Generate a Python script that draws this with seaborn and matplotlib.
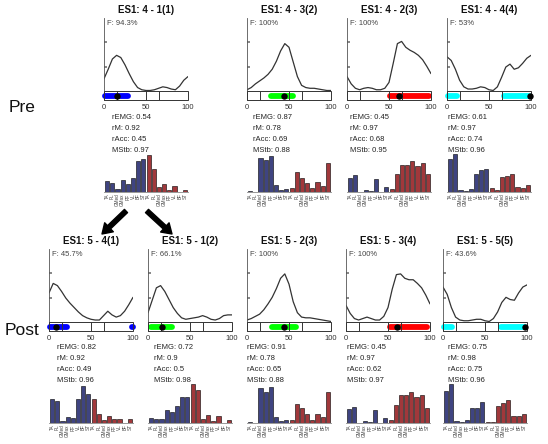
import numpy as np
import pandas as pd
import matplotlib
matplotlib.use('Agg')
import matplotlib.pyplot as plt
from matplotlib.patches import Rectangle
import seaborn as sns

sns.set_theme(style='white')
plt.rcParams['font.family'] = ['Liberation Sans', 'DejaVu Sans']

W, H = 548, 444

# gait cycle (%) sampling of the activation curves
phase = np.arange(0, 101, 5)

titles = ['ES1: 4 - 1(1)', 'ES1: 4 - 3(2)', 'ES1: 4 - 2(3)', 'ES1: 4 - 4(4)',
          'ES1: 5 - 4(1)', 'ES1: 5 - 1(2)', 'ES1: 5 - 2(3)', 'ES1: 5 - 3(4)', 'ES1: 5 - 5(5)']
f_labels = ['94.3%', '100%', '100%', '53%', '45.7%', '66.1%', '100%', '100%', '43.6%']
r_emg = [0.54, 0.87, 0.45, 0.61, 0.82, 0.72, 0.91, 0.45, 0.75]
r_m = [0.92, 0.78, 0.97, 0.97, 0.92, 0.9, 0.78, 0.97, 0.98]
r_acc = [0.45, 0.69, 0.68, 0.74, 0.49, 0.5, 0.65, 0.62, 0.75]
m_stb = [0.97, 0.88, 0.95, 0.96, 0.96, 0.98, 0.88, 0.97, 0.96]

curves = [
    [0.17, 0.30, 0.44, 0.49, 0.46, 0.36, 0.24, 0.13, 0.05, 0.02, 0.01, 0.01, 0.02, 0.04, 0.06, 0.05, 0.03, 0.02, 0.07, 0.15, 0.20],
    [0.02, 0.05, 0.10, 0.14, 0.18, 0.23, 0.30, 0.41, 0.55, 0.65, 0.60, 0.40, 0.20, 0.08, 0.05, 0.04, 0.04, 0.03, 0.02, 0.01, 0.01],
    [0.20, 0.10, 0.04, 0.02, 0.04, 0.05, 0.04, 0.02, 0.02, 0.04, 0.12, 0.38, 0.65, 0.68, 0.60, 0.56, 0.53, 0.49, 0.43, 0.34, 0.24],
    [0.47, 0.42, 0.30, 0.15, 0.06, 0.03, 0.03, 0.04, 0.06, 0.05, 0.02, 0.01, 0.06, 0.19, 0.33, 0.37, 0.30, 0.32, 0.38, 0.45, 0.49],
    [0.40, 0.53, 0.50, 0.42, 0.33, 0.26, 0.20, 0.14, 0.09, 0.06, 0.04, 0.03, 0.03, 0.09, 0.15, 0.10, 0.07, 0.09, 0.15, 0.24, 0.34],
    [0.13, 0.30, 0.47, 0.50, 0.42, 0.31, 0.20, 0.12, 0.06, 0.04, 0.05, 0.06, 0.07, 0.09, 0.07, 0.04, 0.03, 0.05, 0.09, 0.10, 0.10],
    [0.03, 0.05, 0.08, 0.11, 0.17, 0.25, 0.34, 0.46, 0.60, 0.66, 0.52, 0.28, 0.13, 0.07, 0.06, 0.06, 0.05, 0.04, 0.03, 0.02, 0.01],
    [0.23, 0.12, 0.05, 0.03, 0.05, 0.07, 0.05, 0.03, 0.03, 0.08, 0.20, 0.45, 0.65, 0.66, 0.60, 0.58, 0.58, 0.53, 0.47, 0.37, 0.25],
    [0.48, 0.38, 0.20, 0.07, 0.03, 0.02, 0.02, 0.03, 0.04, 0.04, 0.02, 0.01, 0.05, 0.14, 0.27, 0.34, 0.31, 0.30, 0.40, 0.48, 0.51],
]

# active range of each synergy on the gait cycle and its centre
band_colors = ['#0000ff', '#00ff00', '#ff0000', '#00ffff',
               '#0000ff', '#00ff00', '#00ff00', '#ff0000', '#00ffff']
band_spans = [[(1, 28)], [(28, 55)], [(51, 98)], [(1, 12), (68, 98)],
              [(1, 21), (98.5, 99.5)], [(4, 29)], [(30, 58)], [(52, 97)], [(1, 11), (69, 98)]]
band_centres = [15, 44, 62, 99, 8, 17, 44, 61, 98]
phase_marks = [15, 50, 65]

muscles = ['TA', 'PL', 'GMed', 'GMax', 'RF', 'VL', 'BF', 'ST']
side = ['L'] * 8 + ['R'] * 8
weights = [
    [33, 28, 10, 37, 25, 42, 93, 100, 111, 68, 15, 24, 7, 18, 1, 7],
    [3, 1, 103, 95, 107, 20, 5, 10, 12, 60, 42, 28, 12, 30, 18, 88],
    [42, 50, 1, 5, 3, 38, 1, 14, 8, 55, 80, 80, 92, 78, 87, 53],
    [98, 113, 7, 4, 10, 55, 65, 70, 12, 6, 45, 48, 55, 15, 11, 22],
    [73, 67, 6, 18, 15, 72, 110, 88, 71, 28, 10, 22, 11, 11, 0, 12],
    [16, 11, 11, 38, 33, 51, 78, 78, 118, 98, 13, 23, 5, 20, 1, 10],
    [2, 1, 105, 92, 107, 18, 6, 8, 10, 56, 46, 26, 10, 28, 18, 92],
    [41, 48, 1, 5, 3, 38, 1, 15, 10, 55, 83, 83, 92, 78, 85, 46],
    [95, 116, 6, 4, 8, 45, 45, 64, 2, 2, 51, 60, 70, 22, 20, 28],
]

# layout in pixels
col_x = [104, 247, 347, 447, 49, 148, 247, 346, 443]
stats_dx = [8, 6, 3, 1, 8, 6, 0, 1, 5]
rows = [dict(title=10, top=18, bot=100, stats=117, btop=152, bbot=192),
        dict(title=241, top=249, bot=331, stats=347, btop=383, bbot=423)]
PW = 84
BAND = 0.12

fig = plt.figure(figsize=(W / 100, H / 100), dpi=100)
canvas = fig.add_axes([0, 0, 1, 1])
canvas.set_xlim(0, W)
canvas.set_ylim(H, 0)
canvas.axis('off')
canvas.patch.set_alpha(0)


def px_axes(x, y, w, h):
    return fig.add_axes([x / W, 1 - (y + h) / H, w / W, h / H])


for i in range(9):
    row = rows[0 if i < 4 else 1]
    x0 = col_x[i]

    canvas.text(x0 + PW / 2, row['title'], titles[i], ha='center', va='center',
                fontsize=7, fontweight='bold', color='#111111')

    ax = px_axes(x0, row['top'], PW, row['bot'] - row['top'])
    df = pd.DataFrame({'phase': phase, 'act': curves[i]})
    sns.lineplot(data=df, x='phase', y='act', ax=ax, color='#333333', linewidth=0.9)
    ax.add_patch(Rectangle((0, -BAND), 100, BAND, fill=False, edgecolor='#333333',
                           lw=0.7, clip_on=False, zorder=4))
    for lo, hi in band_spans[i]:
        ax.plot([lo, hi], [-BAND / 2] * 2, color=band_colors[i], lw=4.2,
                solid_capstyle='round', clip_on=False, zorder=3)
    ax.vlines(phase_marks, -BAND, 0, color='#333333', lw=0.7, zorder=4)
    ax.plot(band_centres[i], -BAND / 2, 'o', color='black', ms=3.6, zorder=5, clip_on=False)
    ax.set_xlim(0, 100)
    ax.set_ylim(-BAND, 1)
    ax.set_xticks([0, 50, 100])
    ax.set_yticks([0.33, 0.67])
    ax.set_yticklabels([])
    ax.tick_params(axis='x', length=0, pad=3, labelsize=5.5, labelcolor='#333333')
    ax.tick_params(axis='y', direction='in', length=2, left=True, color='#777777')
    ax.set_xlabel('')
    ax.set_ylabel('')
    for s in ['top', 'right', 'bottom']:
        ax.spines[s].set_visible(False)
    ax.spines['left'].set_color('#555555')
    ax.spines['left'].set_linewidth(0.6)
    ax.text(0.04, 0.97, 'F: ' + f_labels[i], transform=ax.transAxes, ha='left', va='top',
            fontsize=5.5, color='#444444')

    stats = [f'rEMG: {r_emg[i]:g}', f'rM: {r_m[i]:g}', f'rAcc: {r_acc[i]:g}', f'MStb: {m_stb[i]:g}']
    for k, s in enumerate(stats):
        canvas.text(x0 + stats_dx[i], row['stats'] + 11.3 * k, s, ha='left', va='center',
                    fontsize=5.5, color='#222222')

    bx = px_axes(x0, row['btop'], PW, row['bbot'] - row['btop'])
    bdf = pd.DataFrame({'idx': np.arange(16), 'w': weights[i], 'side': side})
    sns.barplot(data=bdf, x='idx', y='w', hue='side', dodge=False, ax=bx,
                palette={'L': '#343a8c', 'R': '#b3262b'}, edgecolor='black',
                linewidth=0.4, width=0.8, legend=False)
    bx.set_xlim(-0.6, 15.6)
    bx.set_ylim(0, 120)
    bx.set_xticks(np.arange(16))
    bx.set_xticklabels(muscles * 2, rotation=90, fontsize=3.3, color='#444444')
    bx.tick_params(axis='x', length=0, pad=1)
    bx.set_yticks([])
    bx.set_xlabel('')
    bx.set_ylabel('')
    for s in ['top', 'right', 'left']:
        bx.spines[s].set_visible(False)
    bx.spines['bottom'].set_color('#888888')
    bx.spines['bottom'].set_linewidth(0.6)

canvas.text(22, 107, 'Pre', ha='center', va='center', fontsize=12.5, color='#111111')
canvas.text(22, 330, 'Post', ha='center', va='center', fontsize=12.5, color='#111111')

arrow = dict(facecolor='black', edgecolor='black', width=3.2, headwidth=9, headlength=7)
canvas.annotate('', xy=(102, 234), xytext=(126, 211), arrowprops=arrow)
canvas.annotate('', xy=(172, 234), xytext=(147, 211), arrowprops=arrow)

fig.savefig('out.png', dpi=100)
